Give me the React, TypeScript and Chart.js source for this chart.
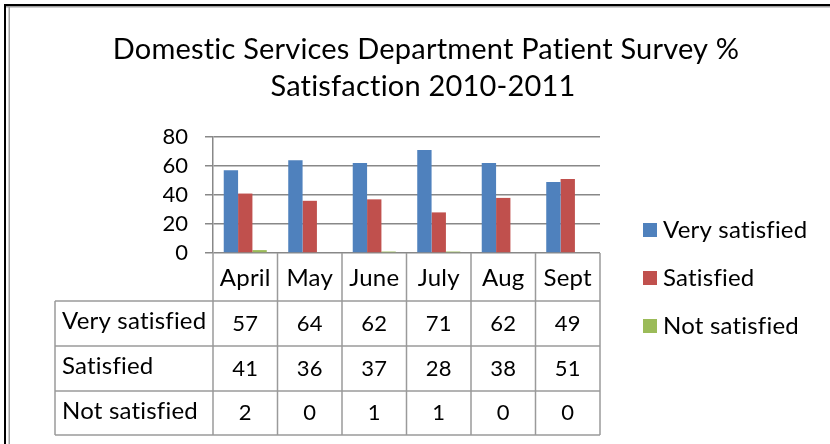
import React, { useEffect, useRef } from "react";
import { Chart, registerables } from "chart.js";

Chart.register(...registerables);

const categories = ["April", "May", "June", "July", "Aug", "Sept"];
const seriesNames = ["Very satisfied", "Satisfied", "Not satisfied"];
const verySatisfied = [57, 64, 62, 71, 62, 49];
const satisfied = [41, 36, 37, 28, 38, 51];
const notSatisfied = [2, 0, 1, 1, 0, 0];
const yTicks = [0, 20, 40, 60, 80];
const titleLines = ["Domestic Services Department Patient Survey %", "Satisfaction 2010-2011"];
const seriesColors = ["#4F81BD", "#C0504D", "#9BBB59"];

const FONT = "Lato, 'Open Sans', sans-serif";
const GRID = "#888888";
const TABLE_LINE = "#9a9a9a";

const overlayPlugin = {
  id: "overlay",
  afterDraw(chart: any) {
    const ctx = chart.ctx as CanvasRenderingContext2D;
    const area = chart.chartArea;
    const xScale = chart.scales.x;
    ctx.save();
    try {
      (ctx as any).letterSpacing = "0.2px";
    } catch (e) {}

    // outer frame (black outer + gray inner)
    ctx.fillStyle = "#000";
    ctx.fillRect(4, 4, 830, 2);
    ctx.fillRect(4, 4, 2, 444);
    ctx.fillStyle = "#a0a0a0";
    ctx.fillRect(6, 6, 830, 1.5);
    ctx.fillRect(8.5, 6, 1.5, 444);

    // title
    ctx.fillStyle = "#000";
    ctx.textAlign = "center";
    ctx.textBaseline = "alphabetic";
    ctx.font = `29px ${FONT}`;
    ctx.fillText(titleLines[0], 426, 59);
    ctx.fillText(titleLines[1], 423, 96);

    // legend
    ctx.font = `24px ${FONT}`;
    ctx.textAlign = "left";
    ctx.textBaseline = "middle";
    const legendY = [230, 278, 326];
    seriesNames.forEach((name, i) => {
      ctx.fillStyle = seriesColors[i];
      ctx.fillRect(643, legendY[i] - 7, 14, 14);
      ctx.fillStyle = "#000";
      ctx.fillText(name, 663, legendY[i]);
    });

    // data table
    const n = categories.length;
    const colW = (area.right - area.left) / n;
    const rowTops = [area.bottom, 301, 346, 391, 435];
    const labelLeft = 55;
    ctx.strokeStyle = TABLE_LINE;
    ctx.lineWidth = 1.5;
    ctx.beginPath();
    for (let i = 0; i <= n; i++) {
      const x = area.left + i * colW;
      ctx.moveTo(x, area.bottom);
      ctx.lineTo(x, rowTops[4]);
    }
    ctx.moveTo(labelLeft, rowTops[1]);
    ctx.lineTo(labelLeft, rowTops[4]);
    for (let r = 1; r < rowTops.length; r++) {
      ctx.moveTo(labelLeft, rowTops[r]);
      ctx.lineTo(area.right, rowTops[r]);
    }
    ctx.stroke();

    ctx.fillStyle = "#000";
    ctx.textBaseline = "middle";
    ctx.textAlign = "center";
    ctx.font = `24px ${FONT}`;
    categories.forEach((c, i) => {
      const x = xScale.getPixelForValue(i);
      ctx.fillText(c, x, (rowTops[0] + rowTops[1]) / 2 + 1);
    });
    const tableRows = [verySatisfied, satisfied, notSatisfied];
    tableRows.forEach((vals, r) => {
      const yc = (rowTops[r + 1] + rowTops[r + 2]) / 2;
      ctx.font = `24px ${FONT}`;
      ctx.textAlign = "left";
      ctx.fillText(seriesNames[r], 62, yc - 2);
      ctx.font = `22px ${FONT}`;
      ctx.textAlign = "center";
      vals.forEach((v, i) => {
        ctx.fillText(String(v), xScale.getPixelForValue(i), yc);
      });
    });

    ctx.restore();
  },
};

export default function App() {
  const canvasRef = useRef<HTMLCanvasElement | null>(null);

  useEffect(() => {
    document.body.style.margin = "0";
    const canvas = canvasRef.current;
    if (!canvas) return;
    const data = [verySatisfied, satisfied, notSatisfied];
    const chart = new Chart(canvas, {
      type: "bar",
      data: {
        labels: categories,
        datasets: seriesNames.map((name, i) => ({
          label: name,
          data: data[i],
          backgroundColor: seriesColors[i],
          borderWidth: 0,
          categoryPercentage: 0.667,
          barPercentage: 1.0,
        })),
      },
      options: {
        responsive: false,
        animation: false,
        devicePixelRatio: 1,
        layout: { padding: { left: 163, right: 230, top: 137, bottom: 191 } },
        plugins: {
          legend: { display: false },
          title: { display: false },
          tooltip: { enabled: false },
        },
        scales: {
          x: {
            display: false,
          },
          y: {
            min: 0,
            max: 80,
            afterFit: (scale: any) => {
              scale.width = 50;
            },
            afterBuildTicks: (scale: any) => {
              scale.ticks = yTicks.map((v) => ({ value: v }));
            },
            border: { display: true, color: GRID, width: 1.5 },
            grid: {
              color: GRID,
              lineWidth: 1.5,
              tickLength: 8,
              drawTicks: true,
            },
            ticks: {
              color: "#000",
              padding: 17,
              autoSkip: false,
              font: { family: FONT, size: 22 },
            },
          },
        },
      },
      plugins: [overlayPlugin],
    });
    return () => chart.destroy();
  }, []);

  return (
    <div style={{ position: "absolute", left: 0, top: 0, width: 830, height: 444, background: "#fff" }}>
      <canvas ref={canvasRef} width={830} height={444} style={{ display: "block" }} />
    </div>
  );
}
